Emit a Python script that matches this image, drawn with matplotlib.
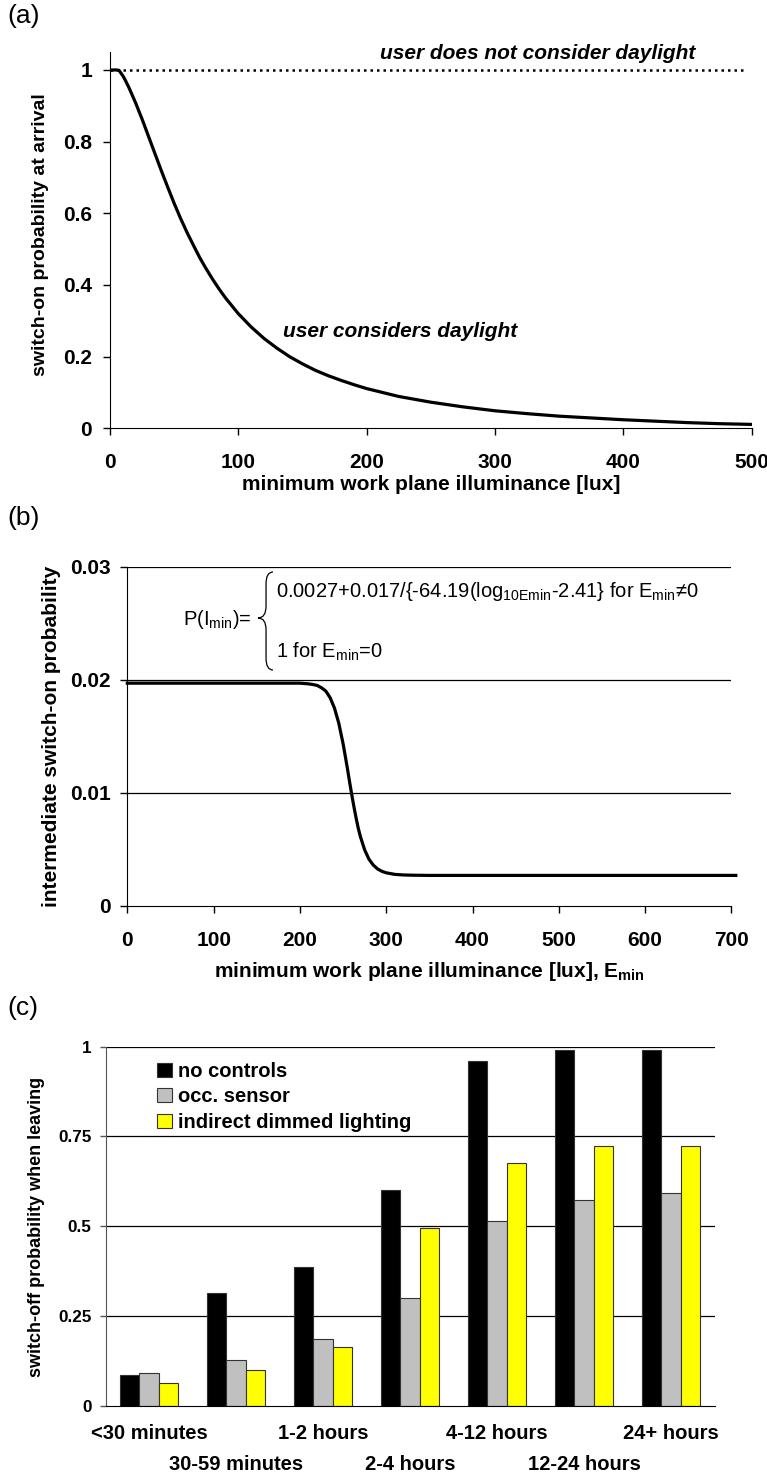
import matplotlib
matplotlib.use("Agg")
import matplotlib.pyplot as plt
from matplotlib.path import Path
from matplotlib.patches import PathPatch

plt.rcParams["font.family"] = ["Liberation Sans", "DejaVu Sans"]
plt.rcParams["mathtext.fontset"] = "custom"
plt.rcParams["mathtext.rm"] = "Liberation Sans"
plt.rcParams["mathtext.it"] = "Liberation Sans:italic"
plt.rcParams["mathtext.bf"] = "Liberation Sans:bold"

# (a) switch-on probability at arrival
arrival_lux = [0, 5, 7, 10, 12, 15, 20, 25, 30, 35, 40, 45, 50, 55, 60,
               65, 70, 75, 80, 85, 90, 95, 100, 110, 120, 130, 140, 150,
               160, 170, 180, 190, 200, 225, 250, 275, 300, 325, 350, 375,
               400, 425, 450, 475, 500]
arrival_prob = [1.0, 1.0, 0.999, 0.984, 0.971, 0.949, 0.908, 0.863, 0.815,
                0.767, 0.719, 0.673, 0.628, 0.586, 0.547, 0.511, 0.476,
                0.445, 0.416, 0.389, 0.364, 0.342, 0.320, 0.283, 0.251,
                0.224, 0.200, 0.180, 0.162, 0.147, 0.134, 0.122, 0.111,
                0.089, 0.073, 0.060, 0.049, 0.041, 0.034, 0.029, 0.024,
                0.020, 0.016, 0.013, 0.011]
no_daylight_lux = [0, 495]
no_daylight_prob = [1.0, 1.0]

# (b) intermediate switch-on probability
inter_lux = [0, 100, 200, 210, 215, 220, 225, 230, 235, 240, 245, 250,
             252.5, 255, 257.5, 260, 262.5, 265, 267.5, 270, 275, 280, 285,
             290, 295, 300, 310, 320, 330, 350, 400, 500, 600, 705]
inter_prob = [0.0197, 0.0197, 0.0197, 0.01964, 0.01958, 0.0195, 0.01929,
              0.0190, 0.01841, 0.0175, 0.01616, 0.01434, 0.01326, 0.01215,
              0.01098, 0.00985, 0.00879, 0.0078, 0.00689, 0.00614, 0.00495,
              0.00413, 0.00361, 0.00327, 0.00306, 0.00293, 0.00279,
              0.00274, 0.00272, 0.0027, 0.0027, 0.0027, 0.0027, 0.0027]

# (c) switch-off probability when leaving
absence = ["<30 minutes", "30-59 minutes", "1-2 hours", "2-4 hours",
           "4-12 hours", "12-24 hours", "24+ hours"]
no_controls = [0.087, 0.314, 0.386, 0.600, 0.960, 0.990, 0.990]
occ_sensor = [0.091, 0.127, 0.186, 0.300, 0.514, 0.572, 0.594]
indirect_dimmed = [0.065, 0.100, 0.165, 0.496, 0.676, 0.724, 0.724]

BOLD = dict(fontweight="bold")


def draw_brace(ax, x0, x1, yt, ym, yb, xm, d):
    verts = [(x1, yt), (xm, yt), (xm, yt - d), (xm, ym + d),
             (xm, ym), (x0, ym), (xm, ym), (xm, ym - d),
             (xm, yb + d), (xm, yb), (x1, yb)]
    codes = [Path.MOVETO, Path.CURVE3, Path.CURVE3, Path.LINETO,
             Path.CURVE3, Path.CURVE3, Path.CURVE3, Path.CURVE3,
             Path.LINETO, Path.CURVE3, Path.CURVE3]
    patch = PathPatch(Path(verts, codes), fill=False, lw=0.9,
                      edgecolor="black", transform=ax.transAxes,
                      clip_on=False)
    ax.add_patch(patch)


fig = plt.figure(figsize=(7.67, 14.75), dpi=100)

# ---------------- (a)
ax1 = fig.add_axes([0.1434, 0.7096, 0.8364, 0.2551])
ax1.plot(arrival_lux, arrival_prob, color="black", lw=2.3)
ax1.plot(no_daylight_lux, no_daylight_prob, color="black", lw=1.8,
         ls=(0, (1, 1.6)))
ax1.set_xlim(0, 500)
ax1.set_ylim(0, 1.05)
ax1.set_xticks([0, 100, 200, 300, 400, 500])
ax1.set_yticks([0, 0.2, 0.4, 0.6, 0.8, 1.0])
ax1.set_yticklabels(["0", "0.2", "0.4", "0.6", "0.8", "1"])
ax1.spines[["top", "right"]].set_visible(False)
ax1.tick_params(axis="y", length=5, width=1, pad=8, labelsize=15)
ax1.tick_params(axis="x", length=5, width=1, pad=13, labelsize=15)
for lab in ax1.get_xticklabels() + ax1.get_yticklabels():
    lab.set_fontweight("bold")
ax1.set_xlabel("minimum work plane illuminance [lux]", fontsize=15, **BOLD)
ax1.xaxis.set_label_coords(0.5, -0.124)
ax1.set_ylabel("switch-on probability at arrival", fontsize=14, **BOLD)
ax1.yaxis.set_label_coords(-0.095, 0.514)
ax1.text(333, 1.047, "user does not consider daylight", fontsize=15,
         fontweight="bold", style="italic", ha="center", va="center")
ax1.text(226, 0.27, "user considers daylight", fontsize=15,
         fontweight="bold", style="italic", ha="center", va="center")

# ---------------- (b)
ax2 = fig.add_axes([0.166, 0.3858, 0.7877, 0.23])
for yv in [0.01, 0.02, 0.03]:
    ax2.axhline(yv, color="black", lw=0.9, zorder=1)
ax2.plot(inter_lux, inter_prob, color="black", lw=2.3, clip_on=False,
         zorder=3)
ax2.set_xlim(0, 700)
ax2.set_ylim(0, 0.03)
ax2.set_xticks([0, 100, 200, 300, 400, 500, 600, 700])
ax2.set_yticks([0, 0.01, 0.02, 0.03])
ax2.set_yticklabels(["0", "0.01", "0.02", "0.03"])
ax2.spines[["top", "right"]].set_visible(False)
ax2.tick_params(axis="y", length=5, width=1, pad=7, labelsize=15)
ax2.tick_params(axis="x", length=5, width=1, pad=13, labelsize=15)
for lab in ax2.get_xticklabels() + ax2.get_yticklabels():
    lab.set_fontweight("bold")
ax2.set_xlabel(r"minimum work plane illuminance [lux], E$\mathbf{_{min}}$",
               fontsize=15, **BOLD)
ax2.xaxis.set_label_coords(0.5, -0.159)
ax2.set_ylabel("intermediate switch-on probability", fontsize=15, **BOLD)
ax2.yaxis.set_label_coords(-0.11, 0.4996)
ax2.text(0.2059, 0.828, r"P(I$_{\mathrm{min}}$)=", transform=ax2.transAxes,
         fontsize=14.5, ha="right", va="baseline")
draw_brace(ax2, 0.2163, 0.2411, 0.9844, 0.8489, 0.6955, 0.2296, 0.035)
ax2.text(0.2461, 0.9116,
         r"0.0027+0.017/{-64.19(log$_{\mathrm{10Emin}}$-2.41} for "
         r"E$_{\mathrm{min}}$≠0",
         transform=ax2.transAxes, fontsize=14.5, ha="left", va="baseline")
ax2.text(0.2461, 0.733, r"1 for E$_{\mathrm{min}}$=0",
         transform=ax2.transAxes, fontsize=14.5, ha="left", va="baseline")

# ---------------- (c)
ax3 = fig.add_axes([0.1378, 0.0468, 0.794, 0.2436])
for yv in [0.25, 0.5, 0.75, 1.0]:
    ax3.axhline(yv, color="black", lw=0.9, zorder=1)
w = 0.223
pos = list(range(len(absence)))
ax3.bar([p - w for p in pos], no_controls, width=w, color="black",
        edgecolor="#333333", lw=0.8, label="no controls", zorder=2)
ax3.bar(pos, occ_sensor, width=w, color="#c0c0c0",
        edgecolor="#333333", lw=0.8, label="occ. sensor", zorder=2)
ax3.bar([p + w for p in pos], indirect_dimmed, width=w, color="#ffff00",
        edgecolor="#333333", lw=0.8, label="indirect dimmed lighting",
        zorder=2)
ax3.set_xlim(-0.5, len(absence) - 0.5)
ax3.set_ylim(0, 1)
ax3.set_yticks([0, 0.25, 0.5, 0.75, 1.0])
ax3.set_yticklabels(["0", "0.25", "0.5", "0.75", "1"])
ax3.spines[["top", "right"]].set_visible(False)
ax3.spines["left"].set_color("#555555")
ax3.tick_params(axis="y", length=4.3, width=1, pad=6, labelsize=12.3,
                color="#555555")
ax3.set_xticks(pos)
ax3.set_xticklabels(absence, fontsize=14.5, fontweight="bold")
ax3.tick_params(axis="x", length=0)
for i, tick in enumerate(ax3.xaxis.get_major_ticks()):
    tick.set_pad(13.3 if i % 2 == 0 else 35)
for lab in ax3.get_yticklabels():
    lab.set_fontweight("bold")
ax3.set_ylabel("switch-off probability when leaving", fontsize=13, **BOLD)
ax3.yaxis.set_label_coords(-0.0997, 0.4996)
ax3.legend(loc="upper left", bbox_to_anchor=(0.085, 0.958), frameon=False,
           prop=dict(size=14.5, weight="bold"), handlelength=0.7,
           handleheight=0.7, handletextpad=0.3, labelspacing=0.33,
           borderpad=0, borderaxespad=0)

fig.text(0.009, 0.9892, "(a)", fontsize=19, va="center")
fig.text(0.009, 0.6488, "(b)", fontsize=19, va="center")
fig.text(0.009, 0.3166, "(c)", fontsize=19, va="center")

fig.savefig("out.png", dpi=100)
